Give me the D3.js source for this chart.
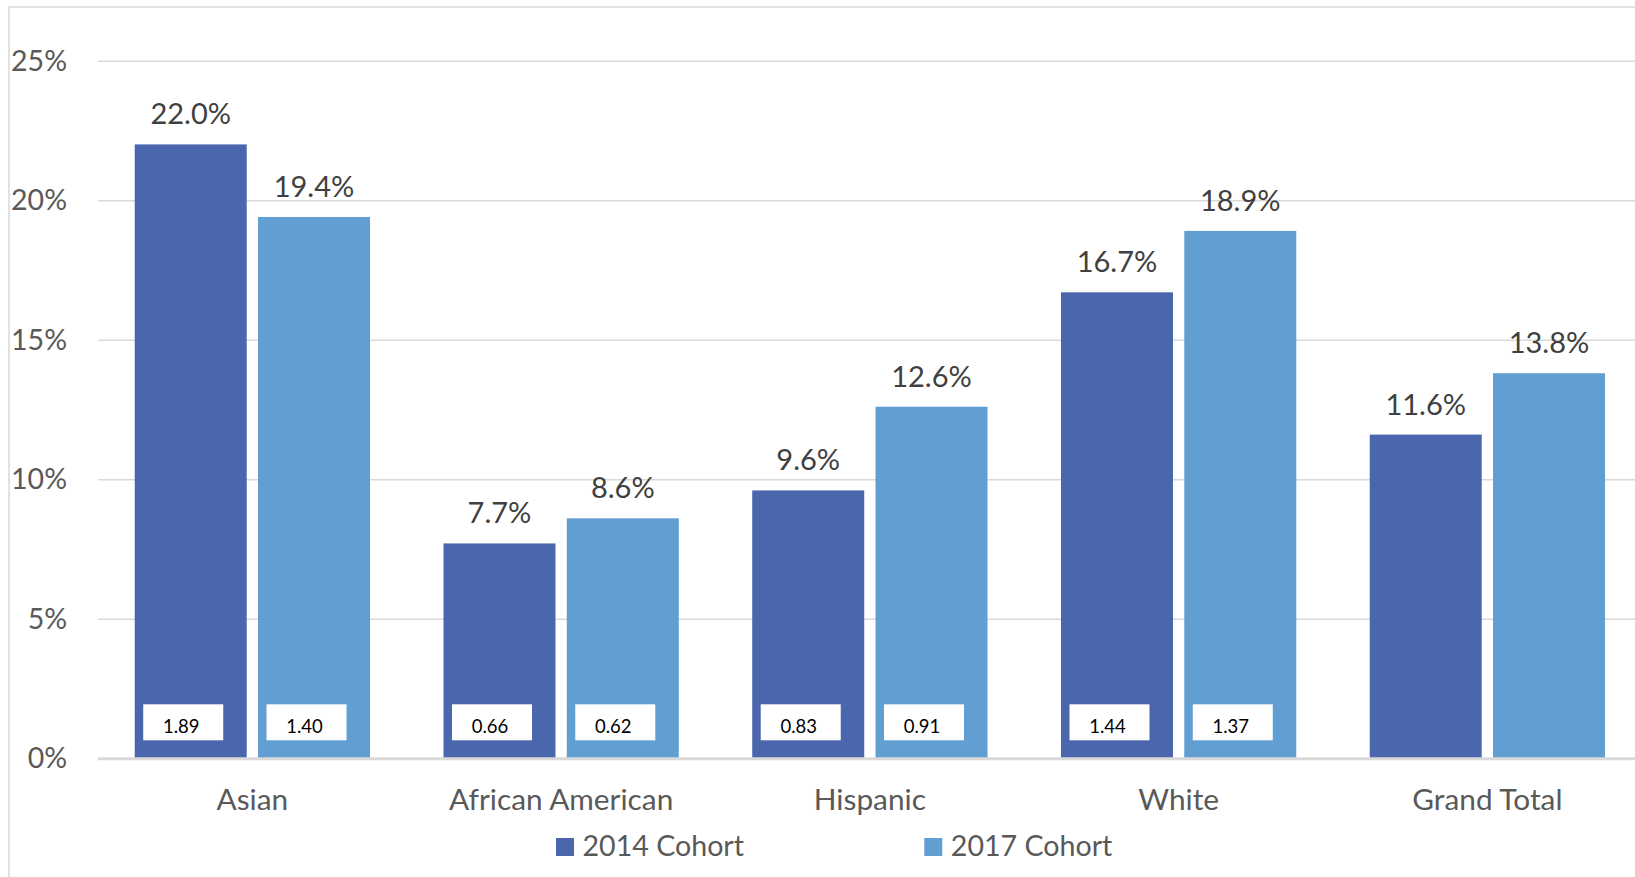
<!DOCTYPE html>
<html>
<head>
<meta charset="utf-8">
<script src="https://cdn.jsdelivr.net/npm/d3@7"></script>
<style>
  html, body { margin: 0; padding: 0; background: #fff; }
  svg { display: block; }
  text { font-family: Lato, "Open Sans", sans-serif; }
</style>
</head>
<body>
<svg id="chart" width="1635" height="877"></svg>
<script>
// Categories and series
const categories = ["Asian", "African American", "Hispanic", "White", "Grand Total"];
const seriesNames = ["2014 Cohort", "2017 Cohort"];
const rate2014 = [22.0, 7.7, 9.6, 16.7, 11.6];
const rate2017 = [19.4, 8.6, 12.6, 18.9, 13.8];
// Small boxed figures shown at the foot of each bar (none for Grand Total)
const ratio2014 = [1.89, 0.66, 0.83, 1.44, null];
const ratio2017 = [1.40, 0.62, 0.91, 1.37, null];
const yTicks = [0, 5, 10, 15, 20, 25];
const colors = ["#4A67AD", "#619ED2"];

const svg = d3.select("#chart");

// Plot area
const plotLeft = 98, plotRight = 1641.75;
const plotTop = 60.7, plotBottom = 758.3;

const x0 = d3.scaleBand().domain(categories).range([plotLeft, plotRight]).paddingInner(0).paddingOuter(0);
const band = x0.bandwidth();
const pairWidth = 235.3;
const x1 = d3.scaleBand().domain(seriesNames)
  .range([band / 2 - pairWidth / 2, band / 2 + pairWidth / 2])
  .paddingInner(0.0916).paddingOuter(0);
const y = d3.scaleLinear().domain([0, 25]).range([plotBottom, plotTop]);

// Outer chart border
svg.append("rect")
  .attr("x", 9).attr("y", 7)
  .attr("width", 1700).attr("height", 1000)
  .attr("fill", "none").attr("stroke", "#D9D9D9").attr("stroke-width", 1.5);

// Gridlines and value-axis labels
const yAxis = d3.axisLeft(y).tickValues(yTicks).tickSize(-(plotRight - plotLeft)).tickFormat(d => d + "%");
const gy = svg.append("g").attr("transform", `translate(${plotLeft},0)`).call(yAxis);
gy.select(".domain").remove();
gy.selectAll(".tick line").attr("stroke", "#D9D9D9").attr("stroke-width", d => d === 0 ? 0 : 1.5);
gy.selectAll(".tick text")
  .attr("x", 67 - plotLeft)
  .attr("dy", null)
  .attr("y", 9.5)
  .attr("fill", "#595959")
  .attr("font-size", 28.5)
  .style("font-family", "Lato, 'Open Sans', sans-serif")
  .attr("text-anchor", "end");

// Bars
const rows = categories.map((c, i) => ({
  cat: c,
  vals: [
    { s: seriesNames[0], v: rate2014[i], r: ratio2014[i], k: 0 },
    { s: seriesNames[1], v: rate2017[i], r: ratio2017[i], k: 1 }
  ]
}));

const groups = svg.append("g").selectAll("g").data(rows).join("g")
  .attr("transform", d => `translate(${x0(d.cat)},0)`);

groups.selectAll("rect.bar").data(d => d.vals).join("rect")
  .attr("class", "bar")
  .attr("x", d => x1(d.s))
  .attr("width", x1.bandwidth())
  .attr("y", d => y(d.v))
  .attr("height", d => y(0) - y(d.v))
  .attr("fill", d => colors[d.k]);

// Value labels above bars
groups.selectAll("text.val").data(d => d.vals).join("text")
  .attr("class", "val")
  .attr("x", d => x1(d.s) + x1.bandwidth() / 2)
  .attr("y", d => y(d.v) - 20)
  .attr("text-anchor", "middle")
  .attr("font-size", 29)
  .attr("fill", "#404040")
  .text(d => d3.format(".1f")(d.v) + "%");

// Boxed figures near the base
const boxed = groups.selectAll("g.box").data(d => d.vals.filter(v => v.r != null)).join("g")
  .attr("class", "box");
boxed.append("rect")
  .attr("x", d => x1(d.s) + 8.5)
  .attr("y", y(0) - 54)
  .attr("width", 80)
  .attr("height", 36)
  .attr("fill", "#fff");
boxed.append("text")
  .attr("x", d => x1(d.s) + 8.5 + 38)
  .attr("y", y(0) - 25.6)
  .attr("text-anchor", "middle")
  .attr("font-size", 18.5)
  .attr("fill", "#000")
  .text(d => d3.format(".2f")(d.r));

// Baseline axis
svg.append("line")
  .attr("x1", plotLeft).attr("x2", plotRight)
  .attr("y1", y(0) + 0.5).attr("y2", y(0) + 0.5)
  .attr("stroke", "#D9D9D9").attr("stroke-width", 3);

// Category labels
const xAxis = d3.axisBottom(x0).tickSize(0).tickPadding(0);
const gx = svg.append("g").attr("transform", `translate(0,${plotBottom})`).call(xAxis);
gx.select(".domain").remove();
gx.selectAll(".tick text")
  .attr("dy", null)
  .attr("y", 52)
  .attr("fill", "#595959")
  .attr("font-size", 29.8)
  .style("font-family", "Lato, 'Open Sans', sans-serif");

// Legend
const legendX = [556, 924.3];
const legend = svg.append("g").selectAll("g").data(seriesNames).join("g")
  .attr("transform", (d, i) => `translate(${legendX[i]},838)`);
legend.append("rect").attr("width", 18).attr("height", 18).attr("fill", (d, i) => colors[i]);
legend.append("text").attr("x", 26.5).attr("y", 18).attr("font-size", 28.6).attr("fill", "#595959").text(d => d);
</script>
</body>
</html>
